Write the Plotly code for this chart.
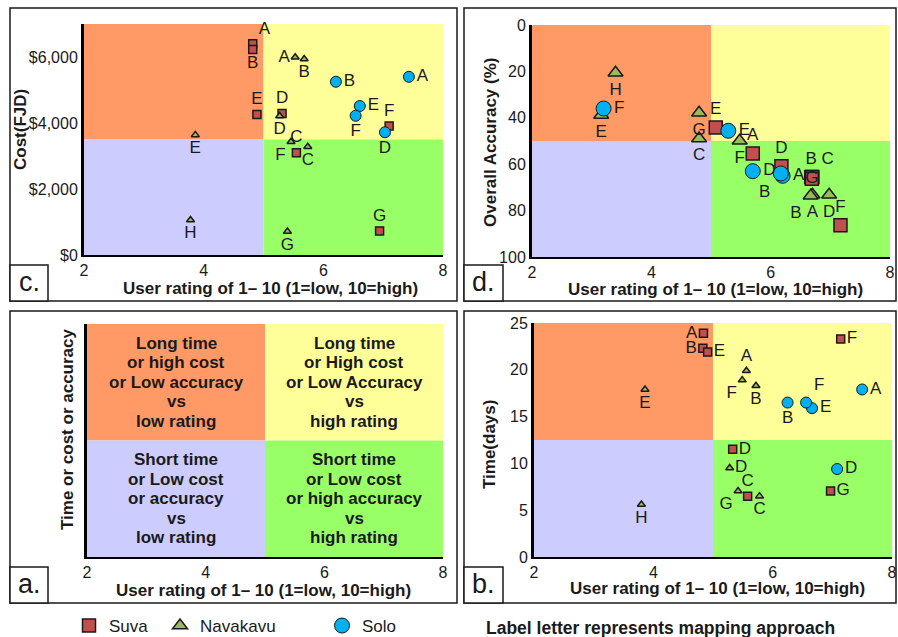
import plotly.graph_objects as go

W, H = 898, 637

# ---------------- data ----------------
RATING_RANGE = [2, 8]
RATING_TICKS = [2, 4, 6, 8]
RATING_MID = 5

# Panel c: cost (FJD) vs user rating
cost_suva_letters = ["A", "B", "C", "D", "E", "F", "G"]
cost_suva_rating = [4.82, 4.82, 5.55, 5.31, 4.89, 7.10, 6.94]
cost_suva_value = [6400, 6230, 3100, 4290, 4260, 3910, 730]

cost_nav_letters = ["A", "B", "C", "D", "E", "F", "G", "H"]
cost_nav_rating = [5.53, 5.68, 5.74, 5.27, 3.86, 5.46, 5.40, 3.78]
cost_nav_value = [5990, 5940, 3280, 4210, 3640, 3430, 710, 1060]

cost_solo_letters = ["A", "B", "D", "E", "F"]
cost_solo_rating = [7.43, 6.21, 7.03, 6.61, 6.54]
cost_solo_value = [5400, 5250, 3720, 4515, 4220]

COST_RANGE = [0, 7000]
COST_TICKS = [0, 2000, 4000, 6000]
COST_TICK_TEXT = ["$0", "$2,000", "$4,000", "$6,000"]

# Panel d: overall accuracy (%) vs user rating
acc_suva_letters = ["A", "B", "C", "D", "E", "F", "G"]
acc_suva_rating = [5.70, 6.68, 6.70, 6.18, 5.08, 7.17, 6.69]
acc_suva_value = [55.4, 65.5, 65.5, 60.9, 44.2, 86.3, 66.3]

acc_nav_letters = ["A", "B", "C", "D", "E", "F", "G", "H"]
acc_nav_rating = [6.70, 6.67, 4.80, 6.98, 3.16, 5.48, 4.80, 3.40]
acc_nav_value = [73.2, 73.6, 48.9, 73.2, 38.8, 49.9, 37.8, 20.6]

acc_solo_letters = ["A", "B", "D", "E", "F"]
acc_solo_rating = [6.20, 6.17, 5.70, 5.29, 3.20]
acc_solo_value = [65.0, 64.0, 63.0, 45.6, 36.0]

ACC_RANGE = [0, 100]
ACC_TICKS = [0, 20, 40, 60, 80, 100]

# Panel b: time (days) vs user rating
time_suva_letters = ["A", "B", "C", "D", "E", "F", "G"]
time_suva_rating = [4.84, 4.83, 5.58, 5.33, 4.91, 7.14, 6.97]
time_suva_value = [23.9, 22.3, 6.5, 11.5, 21.9, 23.3, 7.05]

time_nav_letters = ["A", "B", "C", "D", "E", "F", "G", "H"]
time_nav_rating = [5.56, 5.72, 5.78, 5.28, 3.86, 5.49, 5.42, 3.80]
time_nav_value = [19.9, 18.3, 6.5, 9.5, 17.9, 18.9, 7.05, 5.6]

time_solo_letters = ["A", "B", "D", "E", "F"]
time_solo_rating = [7.50, 6.25, 7.08, 6.66, 6.56]
time_solo_value = [17.9, 16.5, 9.4, 15.9, 16.5]

TIME_RANGE = [0, 25]
TIME_TICKS = [0, 5, 10, 15, 20, 25]

# Panel a: explanatory quadrant text
quad_text_tl = ["Long time", "or high cost", "or Low accuracy", "vs", "low rating"]
quad_text_tr = ["Long time", "or High cost", "or Low Accuracy", "vs", "high rating"]
quad_text_bl = ["Short time", "or Low cost", "or accuracy", "vs", "low rating"]
quad_text_br = ["Short time", "or Low cost", "or high accuracy", "vs", "high rating"]

# ---------------- styles ----------------
FONT = "Liberation Sans, Arial, sans-serif"
NARROW = "Liberation Sans Narrow, Liberation Sans, Arial, sans-serif"
TXT = "#1a1a1a"

C_ORANGE = "#FF9966"
C_YELLOW = "#FFFF99"
C_LAVENDER = "#CCCCFF"
C_GREEN = "#99FF66"

SUVA_FILL = "#C0504D"
NAV_FILL = "#9BBB59"
SOLO_FILL = "#00B0F0"

pos_cost_suva = ["top right", "bottom center", "top center", "top center", "top center", "top center", "top center"]
pos_cost_nav = ["middle left", "bottom center", "bottom center", "bottom center", "bottom center", "bottom left", "bottom center", "bottom center"]
pos_cost_solo = ["middle right", "middle right", "bottom center", "middle right", "bottom center"]

pos_acc_suva = ["top center", "top center", "top right", "top center", "top center", "top center", "middle center"]
pos_acc_nav = ["bottom center", "bottom left", "bottom center", "bottom center", "bottom center", "bottom center", "bottom center", "bottom center"]
pos_acc_solo = ["middle right", "bottom left", "middle right", "middle right", "middle right"]

pos_time_suva = ["middle left", "middle left", "top center", "middle right", "middle right", "middle right", "middle right"]
pos_time_nav = ["top center", "bottom center", "bottom center", "middle right", "bottom center", "bottom left", "bottom left", "bottom center"]
pos_time_solo = ["middle right", "bottom center", "middle right", "middle right", "top right"]


def px_x(p):
    return p / W


def px_y(p):
    return 1 - p / H


fig = go.Figure()


def add_site(xa, ya, xs, ys, letters, pos, name, symbol, fill, size, lw, legend=None):
    fig.add_trace(go.Scatter(
        x=xs, y=ys, text=letters, textposition=pos,
        mode="markers+text", name=name,
        xaxis=xa, yaxis=ya,
        marker=dict(symbol=symbol, color=fill, size=size,
                    line=dict(color="#1a1a1a", width=lw)),
        textfont=dict(family=FONT, size=17, color=TXT),
        showlegend=legend is not None,
        legend=legend if legend else "legend",
        cliponaxis=False,
        hoverinfo="skip",
    ))


# panel c (x, y)
add_site("x", "y", cost_suva_rating, cost_suva_value, cost_suva_letters, pos_cost_suva, "Suva", "square", SUVA_FILL, 8, 1.5)
add_site("x", "y", cost_nav_rating, cost_nav_value, cost_nav_letters, pos_cost_nav, "Navakavu", "triangle-up", NAV_FILL, 7, 1.5)
add_site("x", "y", cost_solo_rating, cost_solo_value, cost_solo_letters, pos_cost_solo, "Solo", "circle", SOLO_FILL, 11, 1)

# panel d (x2, y2)
add_site("x2", "y2", acc_suva_rating, acc_suva_value, acc_suva_letters, pos_acc_suva, "Suva", "square", SUVA_FILL, 13, 1.5, "legend")
add_site("x2", "y2", acc_nav_rating, acc_nav_value, acc_nav_letters, pos_acc_nav, "Navakavu", "triangle-up", NAV_FILL, 13, 1.5, "legend2")
add_site("x2", "y2", acc_solo_rating, acc_solo_value, acc_solo_letters, pos_acc_solo, "Solo", "circle", SOLO_FILL, 15, 1, "legend3")

# panel b (x4, y4)
add_site("x4", "y4", time_suva_rating, time_suva_value, time_suva_letters, pos_time_suva, "Suva", "square", SUVA_FILL, 8, 1.5)
add_site("x4", "y4", time_nav_rating, time_nav_value, time_nav_letters, pos_time_nav, "Navakavu", "triangle-up", NAV_FILL, 7, 1.5)
add_site("x4", "y4", time_solo_rating, time_solo_value, time_solo_letters, pos_time_solo, "Solo", "circle", SOLO_FILL, 11, 1)

# panel a (x3, y3) has only an empty anchor trace so its axes render
fig.add_trace(go.Scatter(x=[None], y=[None], xaxis="x3", yaxis="y3", showlegend=False, hoverinfo="skip"))

shapes = []
annotations = []


def quadrants(xref, yref, yr):
    ymid = (yr[0] + yr[1]) / 2
    top = (ymid, yr[1])
    bot = (yr[0], ymid)
    for (x0, x1, (y0, y1), col) in [
        (RATING_RANGE[0], RATING_MID, top, C_ORANGE),
        (RATING_MID, RATING_RANGE[1], top, C_YELLOW),
        (RATING_RANGE[0], RATING_MID, bot, C_LAVENDER),
        (RATING_MID, RATING_RANGE[1], bot, C_GREEN),
    ]:
        shapes.append(dict(type="rect", xref=xref, yref=yref, x0=x0, x1=x1, y0=y0, y1=y1,
                           fillcolor=col, line=dict(width=0), layer="below"))


quadrants("x", "y", COST_RANGE)
quadrants("x2", "y2", [ACC_RANGE[1], ACC_RANGE[0]])
quadrants("x3", "y3", [0, 1])
quadrants("x4", "y4", TIME_RANGE)

# panel a quadrant texts, one annotation per line for tight spacing
LINE_GAP = 19.5
for (lines, qx, qy) in [(quad_text_tl, (RATING_RANGE[0] + RATING_MID) / 2, 0.75),
                        (quad_text_tr, (RATING_MID + RATING_RANGE[1]) / 2, 0.75),
                        (quad_text_bl, (RATING_RANGE[0] + RATING_MID) / 2, 0.25),
                        (quad_text_br, (RATING_MID + RATING_RANGE[1]) / 2, 0.25)]:
    n = len(lines)
    for i, ln in enumerate(lines):
        annotations.append(dict(xref="x3", yref="y3", x=qx, y=qy, text="<b>" + ln + "</b>",
                                showarrow=False, xanchor="center", yanchor="middle",
                                yshift=-(i - (n - 1) / 2) * LINE_GAP,
                                font=dict(family=FONT, size=17, color=TXT)))

# panel frames (pixel layout)
for (x0, y0, x1, y1) in [(10, 8, 457, 301), (464, 8, 896, 301), (10, 311, 457, 603), (464, 311, 896, 603)]:
    shapes.append(dict(type="rect", xref="paper", yref="paper",
                       x0=px_x(x0), x1=px_x(x1), y0=px_y(y1), y1=px_y(y0),
                       line=dict(color="#1a1a1a", width=1.5), fillcolor="rgba(0,0,0,0)", layer="above"))

# panel letter boxes
for (lab, x0, y0, x1, y1) in [("c.", 10, 265, 48, 301), ("d.", 464, 265, 503, 301),
                              ("a.", 10, 567, 48, 603), ("b.", 464, 567, 503, 603)]:
    shapes.append(dict(type="rect", xref="paper", yref="paper",
                       x0=px_x(x0), x1=px_x(x1), y0=px_y(y1), y1=px_y(y0),
                       line=dict(color="#1a1a1a", width=1.5), fillcolor="white", layer="above"))
    annotations.append(dict(xref="paper", yref="paper", x=px_x((x0 + x1) / 2), y=px_y((y0 + y1) / 2 - 1),
                            text=lab, showarrow=False, xanchor="center", yanchor="middle",
                            font=dict(family=FONT, size=27, color=TXT)))

# axis titles
xtitle = "<b>User rating of 1\u2013 10 (1=low, 10=high)</b>"
for (cx, cy) in [(270, 288), (715, 289), (263, 590), (717, 588)]:
    annotations.append(dict(xref="paper", yref="paper", x=px_x(cx), y=px_y(cy), text=xtitle,
                            showarrow=False, xanchor="center", yanchor="middle",
                            font=dict(family=NARROW, size=17, color=TXT)))

for (t, cx, cy) in [("Cost(FJD)", 20, 130), ("Overall Accuracy (%)", 490, 142),
                    ("Time or cost or accuracy", 67, 430), ("Time(days)", 489, 445)]:
    annotations.append(dict(xref="paper", yref="paper", x=px_x(cx), y=px_y(cy), text="<b>" + t + "</b>",
                            showarrow=False, xanchor="center", yanchor="middle", textangle=-90,
                            font=dict(family=NARROW, size=17, color=TXT)))

annotations.append(dict(xref="paper", yref="paper", x=px_x(660), y=px_y(628),
                        text="<b>Label letter represents mapping approach</b>",
                        showarrow=False, xanchor="center", yanchor="middle",
                        font=dict(family=NARROW, size=17.5, color=TXT)))


def xaxis(domain, anchor):
    return dict(domain=domain, anchor=anchor, range=RATING_RANGE, tickvals=RATING_TICKS,
                showline=True, linecolor="black", linewidth=2, ticks="", ticklen=0,
                ticklabelstandoff=0, showgrid=False,
                zeroline=False, tickfont=dict(family=FONT, size=16, color=TXT), fixedrange=True,
                automargin=False)


def yaxis(domain, anchor, rng, ticks, **kw):
    d = dict(domain=domain, anchor=anchor, range=rng, tickvals=ticks,
             showline=True, linecolor="black", linewidth=3, ticks="", ticklen=0, showgrid=False,
             zeroline=False, tickfont=dict(family=FONT, size=16, color=TXT), fixedrange=True,
             automargin=False)
    d.update(kw)
    return d


dom_c_x = [px_x(84), px_x(443)]
dom_c_y = [px_y(255), px_y(24)]
dom_d_x = [px_x(532), px_x(890)]
dom_d_y = [px_y(257), px_y(25)]
dom_a_x = [px_x(87), px_x(443)]
dom_a_y = [px_y(557), px_y(324)]
dom_b_x = [px_x(534), px_x(892)]
dom_b_y = [px_y(557), px_y(323)]

leg_common = dict(orientation="h", yanchor="middle", xanchor="left", y=px_y(626),
                  font=dict(family=FONT, size=17, color=TXT), bgcolor="rgba(0,0,0,0)",
                  borderwidth=0, itemclick=False, itemdoubleclick=False)

fig.update_layout(
    width=W, height=H,
    margin=dict(l=0, r=0, t=0, b=0, pad=0, autoexpand=False),
    paper_bgcolor="white", plot_bgcolor="rgba(0,0,0,0)",
    xaxis=xaxis(dom_c_x, "y"),
    yaxis=yaxis(dom_c_y, "x", COST_RANGE, COST_TICKS, ticktext=COST_TICK_TEXT),
    xaxis2=xaxis(dom_d_x, "y2"),
    yaxis2=yaxis(dom_d_y, "x2", [ACC_RANGE[1], ACC_RANGE[0]], ACC_TICKS),
    xaxis3=xaxis(dom_a_x, "y3"),
    yaxis3=yaxis(dom_a_y, "x3", [0, 1], [], showticklabels=False),
    xaxis4=xaxis(dom_b_x, "y4"),
    yaxis4=yaxis(dom_b_y, "x4", TIME_RANGE, TIME_TICKS),
    shapes=shapes,
    annotations=annotations,
    legend=dict(leg_common, x=px_x(69)),
    legend2=dict(leg_common, x=px_x(160)),
    legend3=dict(leg_common, x=px_x(322)),
    showlegend=True,
)

fig.write_html(
    "out.html",
    config={"responsive": False, "displayModeBar": False},
    post_script="document.body.style.margin='0px';document.body.style.overflow='hidden';",
)
